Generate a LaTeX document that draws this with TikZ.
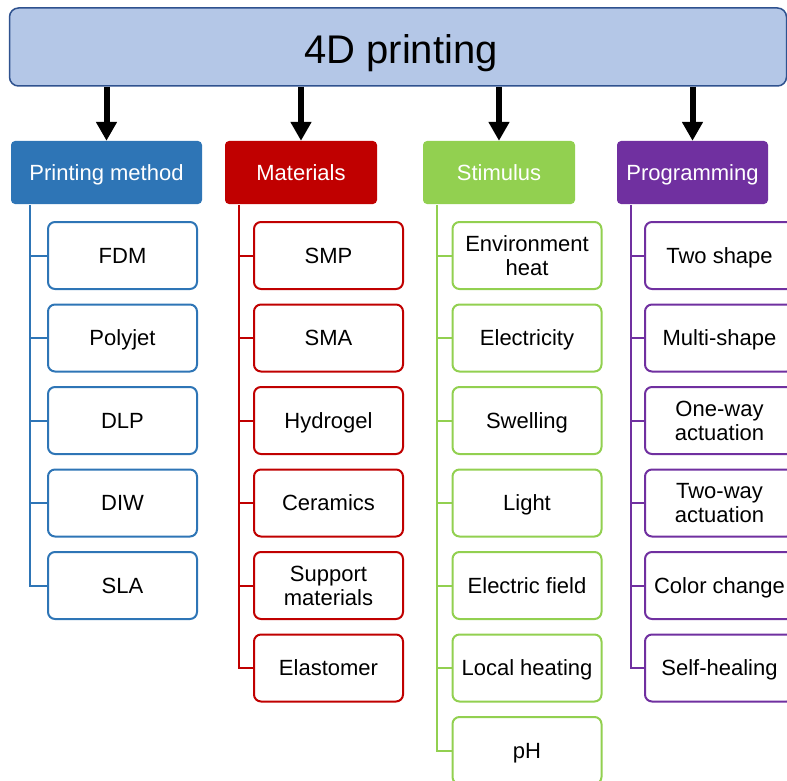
\documentclass[tikz,border=0pt]{standalone}
\usepackage{fontspec}
\setmainfont{Liberation Sans}
\usetikzlibrary{arrows.meta}
\definecolor{topfill}{HTML}{B4C7E7}
\definecolor{topline}{HTML}{2F528F}
\definecolor{cblue}{HTML}{2E75B6}
\definecolor{cred}{HTML}{C00000}
\definecolor{cgreen}{HTML}{92D050}
\definecolor{cpurple}{HTML}{7030A0}

\begin{document}
\begin{tikzpicture}[x=1pt,y=-1pt,
  rootbox/.style={draw=topline, fill=topfill, line width=1.5pt, rounded corners=9pt,
    minimum width=777pt, minimum height=78pt, inner sep=0pt,
    text height=28.6pt, text depth=0pt,
    font=\fontsize{40}{46}\selectfont},
  catbox/.style={fill=#1, rounded corners=4pt, minimum height=63pt, inner sep=0pt,
    text height=15.8pt, text depth=0pt,
    text=white, font=\fontsize{22}{25}\selectfont},
  itembox/.style={draw=#1, line width=2pt, fill=white, rounded corners=7pt,
    minimum width=149pt, minimum height=67pt, inner sep=0pt, align=center,
    font=\fontsize{22}{24}\selectfont},
  one/.style={text height=15.8pt, text depth=0pt},
  two/.style={},
  spine/.style={draw=#1, line width=2pt},
  down/.style={-{Triangle[width=20pt,length=19pt]}, line width=6pt}
]
\useasboundingbox (0,0) rectangle (787,781);

% root
\node[rootbox] (root) at (398,47) {\hspace*{6pt}\raisebox{-2pt}{4D printing}};

% categories
\node[catbox=cblue,   minimum width=191pt] (pm) at (106.5,172.5) {Printing method};
\node[catbox=cred,    minimum width=152pt] (ma) at (301,172.5)   {Materials};
\node[catbox=cgreen,  minimum width=152pt] (st) at (499,172.5)   {Stimulus};
\node[catbox=cpurple, minimum width=151pt] (pr) at (692.5,172.5) {Programming};

\foreach \c in {pm,ma,st,pr}
  \draw[down] (\c.north |- root.south) -- (\c.north);

% spine tops
\coordinate (pmtop) at (29.5,205);
\coordinate (matop) at (239,205);
\coordinate (sttop) at (437,205);
\coordinate (prtop) at (631,205);

% printing methods
\foreach \t/\s [count=\i] in {FDM/one, Polyjet/one, DLP/one, DIW/one, SLA/one}
  \node[itembox=cblue, \s] (pm\i) at (122.5,{255.5+82.5*(\i-1)}) {\t};
% materials
\foreach \t/\s [count=\i] in {SMP/one, SMA/one, Hydrogel/one, Ceramics/one,
    {Support\\materials}/two, Elastomer/one}
  \node[itembox=cred, \s] (ma\i) at (328.5,{255.5+82.5*(\i-1)}) {\t};
% stimuli
\foreach \t/\s [count=\i] in {{Environment\\heat}/two, Electricity/one, Swelling/one,
    Light/one, Electric field/one, Local heating/one, pH/one}
  \node[itembox=cgreen, \s] (st\i) at (527,{255.5+82.5*(\i-1)}) {\t};
% programming
\foreach \t/\s [count=\i] in {Two shape/one, Multi-shape/one, {One-way\\actuation}/two,
    {Two-way\\actuation}/two, Color change/one, Self-healing/one}
  \node[itembox=cpurple, \s] (pr\i) at (719.5,{255.5+82.5*(\i-1)}) {\t};

% tree connectors
\draw[spine=cblue] (pmtop) |- (pm5.west);
\foreach \i in {1,...,4} \draw[spine=cblue] (pmtop |- pm\i.west) -- (pm\i.west);
\draw[spine=cred] (matop) |- (ma6.west);
\foreach \i in {1,...,5} \draw[spine=cred] (matop |- ma\i.west) -- (ma\i.west);
\draw[spine=cgreen] (sttop) |- (st7.west);
\foreach \i in {1,...,6} \draw[spine=cgreen] (sttop |- st\i.west) -- (st\i.west);
\draw[spine=cpurple] (prtop) |- (pr6.west);
\foreach \i in {1,...,5} \draw[spine=cpurple] (prtop |- pr\i.west) -- (pr\i.west);
\end{tikzpicture}
\end{document}
